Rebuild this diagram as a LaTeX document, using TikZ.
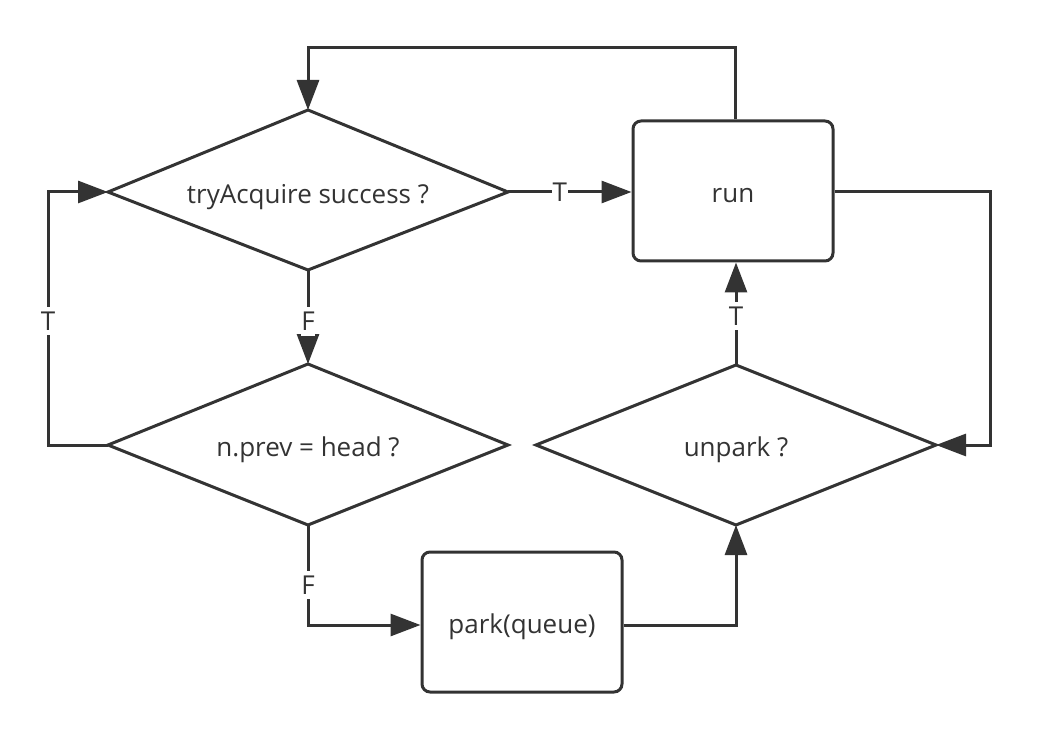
\documentclass[tikz,border=0pt]{standalone}
\usepackage{fontspec}
\setmainfont{Open Sans}
\usetikzlibrary{shapes.geometric,arrows.meta}
\definecolor{ink}{HTML}{333333}
\begin{document}
\begin{tikzpicture}[x=1pt,y=-1pt,
  every node/.style={font=\fontsize{26}{30}\selectfont, text=ink},
  txt/.style={yshift=-5pt},
  shp/.style={draw=ink, line width=3pt, line join=miter},
  box/.style={draw=ink, line width=3pt, rounded corners=8pt, minimum width=200pt, minimum height=140pt},
  conn/.style={draw=ink, line width=3pt, -{Triangle[length=30pt,width=22pt]}},
  lab/.style={fill=white, inner xsep=0.5pt, inner ysep=5pt, text depth=0pt}]
\useasboundingbox (0,0) rectangle (1041,743);
\coordinate (d1l) at (108,192); \coordinate (d1r) at (508,192);
\coordinate (d1t) at (308,110); \coordinate (d1b) at (308,270);
\coordinate (d2l) at (108,445); \coordinate (d2r) at (508,445);
\coordinate (d2t) at (308,364); \coordinate (d2b) at (308,525);
\coordinate (d3l) at (536,445); \coordinate (d3r) at (936,445);
\coordinate (d3t) at (736,365); \coordinate (d3b) at (736,525);
\draw[shp] (d1l) -- (d1t) -- (d1r) -- (d1b) -- cycle;
\draw[shp] (d2l) -- (d2t) -- (d2r) -- (d2b) -- cycle;
\draw[shp] (d3l) -- (d3t) -- (d3r) -- (d3b) -- cycle;
\node[txt] (d1) at (308,192) {tryAcquire success ?};
\node[txt] (d2) at (308,445) {n.prev = head ?};
\node[txt] (d3) at (736,445) {unpark ?};
\node[box] (run) at (733,191) {};
\node[txt] (runt) at (run) {run};
\node[box] (park) at (522,622) {};
\node[txt] (parkt) at (park) {park(queue)};
\coordinate (c1) at (735,48); \coordinate (c2) at (308,48);
\draw[conn] (run.north -| c1) -- (c1) -- (c2) -- (d1t);
\draw[conn] (d1r) -- node[lab, inner ysep=1pt, pos=0.42]{T} (run.west |- d1r);
\draw[conn] (d1b) -- node[lab, pos=0.55]{F} (d2t);
\coordinate (c3) at (48,445); \coordinate (c4) at (48,192);
\draw[conn] (d2l) -- (c3) -- node[lab, pos=0.49]{T} (c4) -- (d1l);
\coordinate (c5) at (308,625);
\draw[conn] (d2b) -- node[lab, pos=0.6]{F} (c5) -- (park.west |- c5);
\coordinate (c6) at (736,625);
\draw[conn] (park.east |- c6) -- (c6) -- (d3b);
\draw[conn] (d3t) -- node[lab, pos=0.48]{T} (run.south -| d3t);
\coordinate (c7) at (990,192); \coordinate (c8) at (990,445);
\draw[conn] (run.east |- c7) -- (c7) -- (c8) -- (d3r);
\end{tikzpicture}
\end{document}
